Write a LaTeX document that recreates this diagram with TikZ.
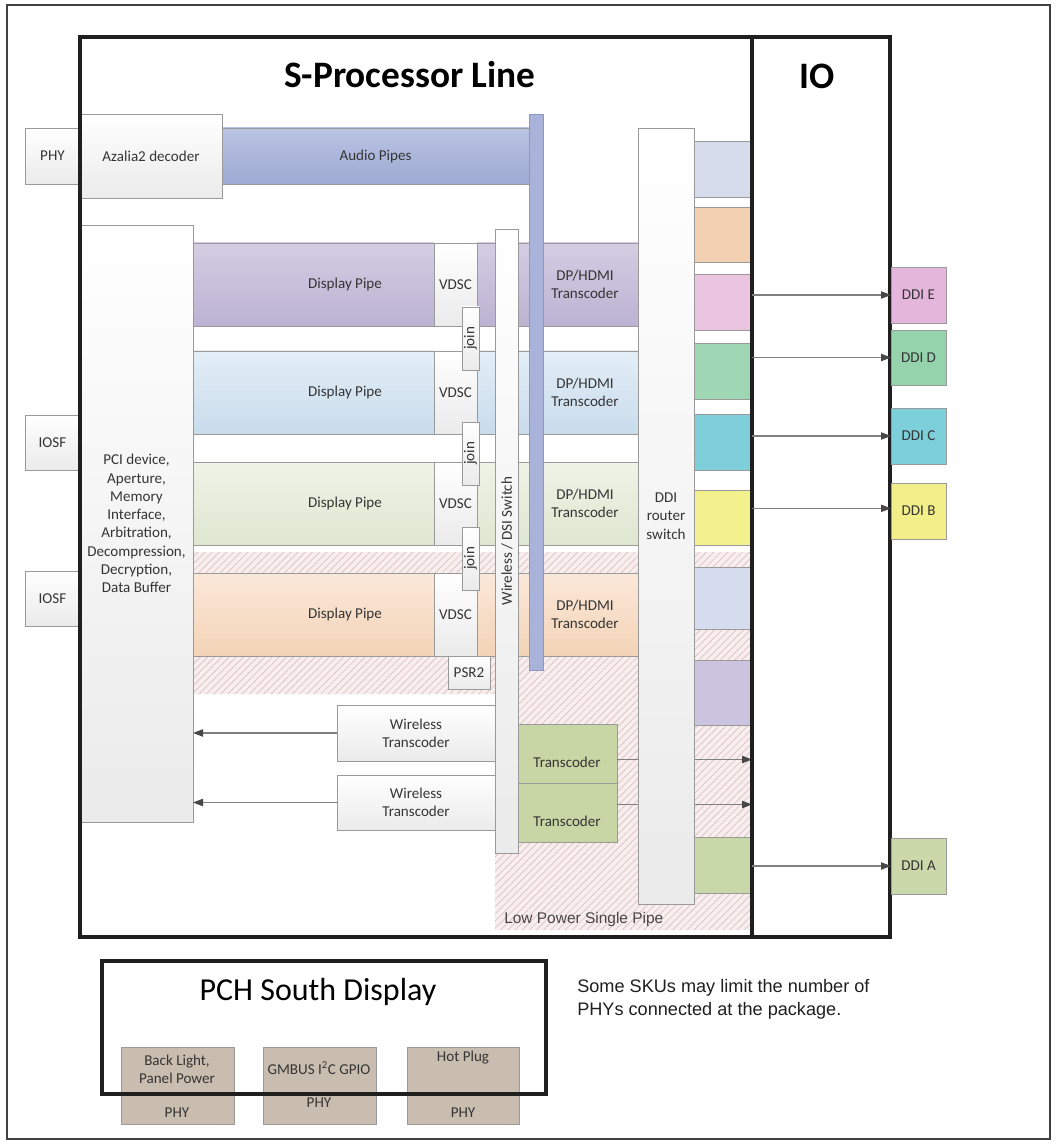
\documentclass[tikz,border=0pt]{standalone}
\usepackage{fontspec}
\setmainfont{Carlito}
\newfontfamily\arialf{Liberation Sans}
\usetikzlibrary{arrows.meta,patterns.meta}
\definecolor{txtc}{HTML}{353535}
\definecolor{bord}{HTML}{9A9A9A}
\definecolor{hatchbg}{HTML}{F8EEEE}
\definecolor{hatchln}{HTML}{DDBFBF}
\definecolor{audT}{HTML}{BAC3E2}
\definecolor{audB}{HTML}{9EAAD3}
\definecolor{abar}{HTML}{A9B3DA}
\definecolor{abarb}{HTML}{8C97C4}
\definecolor{p1T}{HTML}{D4CDE3}
\definecolor{p1B}{HTML}{BCB2D2}
\definecolor{p2T}{HTML}{E3EEF7}
\definecolor{p2B}{HTML}{C9DCEC}
\definecolor{p3T}{HTML}{EEF3E6}
\definecolor{p3B}{HTML}{DEE7D1}
\definecolor{p4T}{HTML}{FBE8D9}
\definecolor{p4B}{HTML}{F3D3B6}
\definecolor{k1}{HTML}{D6DCEC}
\definecolor{k2}{HTML}{F3D0B1}
\definecolor{k3}{HTML}{EBC5E0}
\definecolor{k4}{HTML}{9FD6B3}
\definecolor{k5}{HTML}{7ECFD9}
\definecolor{k6}{HTML}{F3F08E}
\definecolor{k7}{HTML}{D5DCEE}
\definecolor{k8}{HTML}{CBC4DE}
\definecolor{k9}{HTML}{C9D8A8}
\definecolor{dE}{HTML}{E5B6DB}
\definecolor{dD}{HTML}{95D3AC}
\definecolor{dC}{HTML}{7DCFD9}
\definecolor{dB}{HTML}{F2EF8B}
\definecolor{dA}{HTML}{CBD8AA}
\definecolor{tcg}{HTML}{C8D6A5}
\definecolor{brn}{HTML}{C9BDAF}
\newcommand\bx[7]{\node[#2,minimum width={(#5-#3)*0.75pt},minimum height={(#6-#4)*0.75pt}] (#1) at ({(#3+#5)/2},{(#4+#6)/2}) {#7};}
\begin{document}
\begin{tikzpicture}[x=0.75pt,y=-0.75pt,
  font=\fontsize{11.3}{13.7}\selectfont,
  box/.style={draw=bord,line width=0.6pt,inner sep=0pt,outer sep=0pt,text=txtc,align=center},
  wbox/.style={box,top color=white,bottom color=black!8},
  cbox/.style={box,fill=#1},
  pipe/.style={box,draw=bord},
  txt/.style={text=txtc,align=center,inner sep=0pt},
  hatch/.style={preaction={fill=hatchbg},pattern={Lines[angle=45,distance=3.8pt,line width=0.5pt]},pattern color=hatchln},
  frame/.style={draw=black!88,line width=2.3pt,inner sep=0pt,outer sep=0pt},
  arr/.style={draw=black!50,line width=0.8pt,-{Triangle[length=7.5pt,width=5.5pt,color=black!72]}}]
\useasboundingbox (0,0) rectangle (1057,1144);
\bx{outer}{draw=black!75,line width=0.8pt,inner sep=0pt,outer sep=0pt}{7}{5}{1050}{1139}{}
% hatched low power area
\path[hatch] (193,552) rectangle (750,573) (193,656) rectangle (750,694)
  (495,694) rectangle (750,930) (638,573) rectangle (750,656);
% display pipes
\bx{p1}{pipe,top color=p1T,bottom color=p1B}{193}{243}{638}{326}{}
\bx{p2}{pipe,top color=p2T,bottom color=p2B}{193}{351}{638}{434}{}
\bx{p3}{pipe,top color=p3T,bottom color=p3B}{193}{462}{638}{545}{}
\bx{p4}{pipe,top color=p4T,bottom color=p4B}{193}{573}{638}{656}{}
\node[txt] (dp1) at (345,284.5) {Display Pipe};
\node[txt] (dp2) at (345,392.5) {Display Pipe};
\node[txt] (dp3) at (345,503.5) {Display Pipe};
\node[txt] (dp4) at (345,614.5) {Display Pipe};
\node[txt] (hd1) at (585,284.5) {DP/HDMI\\Transcoder};
\node[txt] (hd2) at (585,392.5) {DP/HDMI\\Transcoder};
\node[txt] (hd3) at (585,503.5) {DP/HDMI\\Transcoder};
\node[txt] (hd4) at (585,614.5) {DP/HDMI\\Transcoder};
\bx{v1}{wbox}{434}{243}{477}{326}{VDSC}
\bx{v2}{wbox}{434}{351}{477}{434}{VDSC}
\bx{v3}{wbox}{434}{462}{477}{545}{VDSC}
\bx{v4}{wbox}{434}{573}{477}{656}{VDSC}
\bx{j1}{wbox}{462}{307}{479}{370}{}
\bx{j2}{wbox}{462}{422}{479}{485}{}
\bx{j3}{wbox}{462}{527}{479}{590}{}
\node[txt,rotate=90] (j1t) at (j1) {join};
\node[txt,rotate=90] (j2t) at (j2) {join};
\node[txt,rotate=90] (j3t) at (j3) {join};
\bx{psr}{wbox}{448}{656}{490}{689}{PSR2}
% audio
\bx{phy}{wbox}{25}{128}{80}{184}{PHY}
\bx{aud}{pipe,top color=audT,bottom color=audB}{222}{128}{529}{184}{Audio Pipes}
\bx{az}{wbox}{80}{114}{222}{198}{Azalia2 decoder}
% wireless / DSI switch
\bx{wsw}{wbox}{495}{229}{518}{853}{}
\node[txt,rotate=90] (wswt) at (507,541) {Wireless / DSI Switch};
\bx{abar}{box,fill=abar,draw=abarb}{529}{114}{543}{670}{}
% PCI and IOSF
\bx{iosf1}{wbox}{25}{415}{80}{470}{IOSF}
\bx{iosf2}{wbox}{25}{571}{80}{626}{IOSF}
\bx{pci}{wbox}{80}{225}{193}{822}{PCI device,\\Aperture,\\Memory\\Interface,\\Arbitration,\\Decompression,\\Decryption,\\Data Buffer}
% wireless transcoders
\bx{wt1}{wbox}{337}{705}{495}{761}{Wireless\\Transcoder}
\bx{wt2}{wbox}{337}{775}{495}{830}{Wireless\\Transcoder}
\draw[arr] (wt1.west) -- (wt1.west -| pci.east);
\draw[arr] (wt2.west) -- (wt2.west -| pci.east);
% transcoders
\bx{tc1}{cbox=tcg}{518}{724}{617}{783}{}
\bx{tc2}{cbox=tcg}{518}{783}{617}{842}{}
\node[txt] (tc1t) at (567,762) {Transcoder};
\node[txt] (tc2t) at (567,821) {Transcoder};
% frames (needed for arrow ends)
\bx{sframe}{frame}{80}{37}{752}{937}{}
\bx{ioframe}{frame}{752}{37}{890}{937}{}
\draw[arr] ([yshift=-4.5pt]tc1.east) -- ([yshift=-4.5pt]tc1.east -| ioframe.west);
\draw[arr] ([yshift=6pt]tc2.east) -- ([yshift=6pt]tc2.east -| ioframe.west);
% DDI router switch
\bx{rt}{wbox}{638}{128}{694}{904}{DDI\\router\\switch}
% port column
\bx{c1}{cbox=k1}{694}{141}{750}{197}{}
\bx{c2}{cbox=k2}{694}{207}{750}{262}{}
\bx{c3}{cbox=k3}{694}{274}{750}{330}{}
\bx{c4}{cbox=k4}{694}{343}{750}{399}{}
\bx{c5}{cbox=k5}{694}{414}{750}{470}{}
\bx{c6}{cbox=k6}{694}{490}{750}{545}{}
\bx{c7}{cbox=k7}{694}{567}{750}{629}{}
\bx{c8}{cbox=k8}{694}{660}{750}{725}{}
\bx{c9}{cbox=k9}{694}{837}{750}{893}{}
\node[anchor=west,inner sep=0pt,font=\arialf\fontsize{11.6}{13}\selectfont,text=black!72] (lp) at (504,919) {Low Power Single Pipe};
% redraw frames on top
\draw[frame] (sframe.north west) rectangle (sframe.south east);
\draw[frame] (ioframe.north west) rectangle (ioframe.south east);
\node[inner sep=0pt,font=\bfseries\fontsize{28}{32}\selectfont] (title) at (410,75) {S-Processor Line};
\node[inner sep=0pt,font=\bfseries\fontsize{28}{32}\selectfont] (iot) at (817,76) {IO};
% DDI outputs
\bx{ddiE}{cbox=dE}{891}{267}{946}{323}{DDI E}
\bx{ddiD}{cbox=dD}{891}{330}{946}{385}{DDI D}
\bx{ddiC}{cbox=dC}{891}{408}{946}{464}{DDI C}
\bx{ddiB}{cbox=dB}{891}{483}{946}{539}{DDI B}
\bx{ddiA}{cbox=dA}{891}{838}{946}{894}{DDI A}
\draw[arr] (ddiE.west -| ioframe.west) -- (ddiE.west);
\draw[arr] (ddiD.west -| ioframe.west) -- (ddiD.west);
\draw[arr] (ddiC.west -| ioframe.west) -- (ddiC.west);
\draw[arr] ([yshift=2pt]ddiB.west -| ioframe.west) -- ([yshift=2pt]ddiB.west);
\draw[arr] (ddiA.west -| ioframe.west) -- (ddiA.west);
% PCH South Display
\bx{bl}{cbox=brn}{121}{1047}{234}{1124}{}
\bx{gm}{cbox=brn}{263}{1047}{376}{1124}{}
\bx{hp}{cbox=brn}{407}{1047}{519}{1124}{}
\node[txt] (blt) at (177,1069) {Back Light,\\Panel Power};
\node[txt] (blp) at (177,1113) {PHY};
\node[txt] (gmt) at (319,1068) {GMBUS I\textsuperscript{2}C GPIO};
\node[txt] (gmp) at (319,1103) {PHY};
\node[txt] (hpt) at (463,1058) {Hot Plug};
\node[txt] (hpp) at (463,1113) {PHY};
\bx{pch}{frame}{102}{961}{546}{1094}{}
\node[inner sep=0pt,font=\fontsize{24}{28}\selectfont] (pcht) at (318,992) {PCH South Display};
\node[anchor=north west,align=left,inner sep=0pt,font=\arialf\fontsize{13.6}{17.5}\selectfont,text=black!88] (note) at (577,979) {Some SKUs may limit the number of\\PHYs connected at the package.};
\end{tikzpicture}
\end{document}
